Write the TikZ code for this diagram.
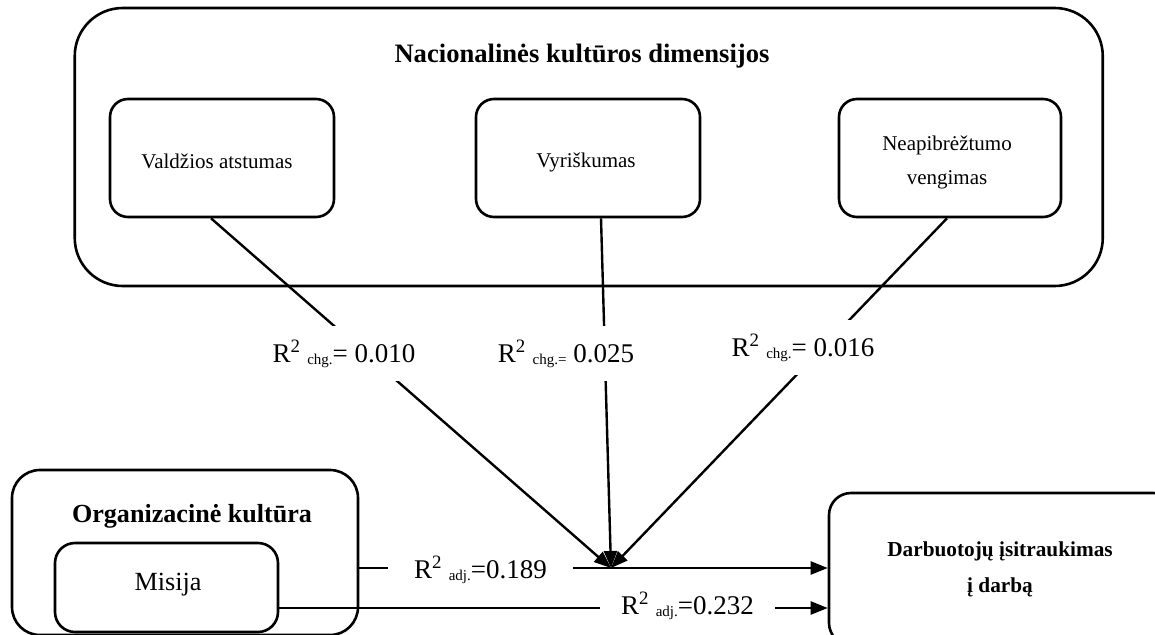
\documentclass[tikz,border=0pt]{standalone}
\usepackage{fontspec}
\setmainfont{Liberation Serif}
\usetikzlibrary{arrows.meta,calc}

% R squared with a lowered small index
\newcommand{\Rsq}{R\textsuperscript{2}}
\newcommand{\lowsub}[1]{\raisebox{-2.5pt}{\fontsize{15}{15}\selectfont #1}}

\begin{document}
\begin{tikzpicture}[x=1pt,y=-1pt,
  panel/.style={draw, line width=2.6pt, rounded corners=#1, inner sep=0pt},
  headtext/.style={font=\fontsize{26.6}{30}\selectfont\bfseries, anchor=base, inner sep=0pt},
  boxtext/.style={font=\fontsize{21}{25}\selectfont, anchor=base, inner sep=0pt},
  bigtext/.style={font=\fontsize{26.2}{30}\selectfont, anchor=base, inner sep=0pt},
  outtext/.style={font=\fontsize{21.3}{25}\selectfont\bfseries, anchor=base, inner sep=0pt},
  rlabel/.style={font=\fontsize{27}{30}\selectfont, fill=white, anchor=base,
    text height=21pt, text depth=4pt, inner ysep=15pt, inner xsep=4pt},
  link/.style={line width=2.4pt},
  arrowlink/.style={line width=2.4pt, -{Triangle[length=17pt,width=13pt]}}
]
\useasboundingbox (0,0) rectangle (1155,634);
\fill[white] (0,0) rectangle (1155,634);
\clip (0,0) rectangle (1155,634);

% national culture panel and its three dimensions
\node[panel=48pt, minimum width=1028pt, minimum height=278pt] (nat) at (588.75,147) {};
\node[headtext] (natT) at (582,63) {Nacionalinės kultūros dimensijos};

\node[panel=18pt, minimum width=224pt, minimum height=118pt] (vald) at (222,158) {};
\node[boxtext] (valdT) at (217,168) {Valdžios atstumas};

\node[panel=18pt, minimum width=224pt, minimum height=118pt] (vyr) at (588,158) {};
\node[boxtext] (vyrT) at (586,167) {Vyriškumas};

\node[panel=18pt, minimum width=222pt, minimum height=118pt] (neap) at (950,158) {};
\node[boxtext] (neapT1) at (947,150) {Neapibrėžtumo};
\node[boxtext] (neapT2) at (947,184) {vengimas};

% organisational culture
\node[panel=28pt, minimum width=346pt, minimum height=165pt] (org) at (185,552.5) {};
\node[headtext, font=\fontsize{26.1}{30}\selectfont\bfseries] (orgT) at (192,522) {Organizacinė kultūra};
\node[panel=20pt, minimum width=223pt, minimum height=89pt] (mis) at (166.5,587.5) {};
\node[bigtext] (misT) at (168,590) {Misija};

% outcome
\node[panel=22pt, minimum width=346pt, minimum height=152pt] (darb) at (1002,569) {};
\node[outtext] (darbT1) at (1000,556) {Darbuotojų įsitraukimas};
\node[outtext] (darbT2) at (1000,592) {į darbą};

% meeting point of the moderating paths and the lower path level
\coordinate (conv) at (611,568);
\coordinate (low) at (0,608);

\draw[arrowlink] ($(vald.south)+(-11,0)$) -- (conv);
\draw[arrowlink] ($(vyr.south)+(13,0)$) -- (conv);
\draw[arrowlink] ($(neap.south)+(-3,0)$) -- (conv);
\draw[arrowlink] (org.east |- conv) -- (darb.west |- conv);
\draw[arrowlink] (mis.east |- low) -- (darb.west |- low);

% coefficient labels, each masking a gap in its path
\node[rlabel] (l1) at (344,362) {\Rsq\ \lowsub{chg.}= 0.010};
\node[rlabel] (l2) at (566,362) {\Rsq\ \lowsub{chg.=} 0.025};
\node[rlabel] (l3) at (803,356) {\Rsq\ \lowsub{chg.}= 0.016};
\node[rlabel, minimum width=185pt, inner ysep=2pt] (l4) at (480.5,578) {\Rsq\ \lowsub{adj.}=0.189};
\node[rlabel, minimum width=175pt, inner ysep=2pt] (l5) at (687.5,614) {\Rsq\ \lowsub{adj.}=0.232};
\end{tikzpicture}
\end{document}
